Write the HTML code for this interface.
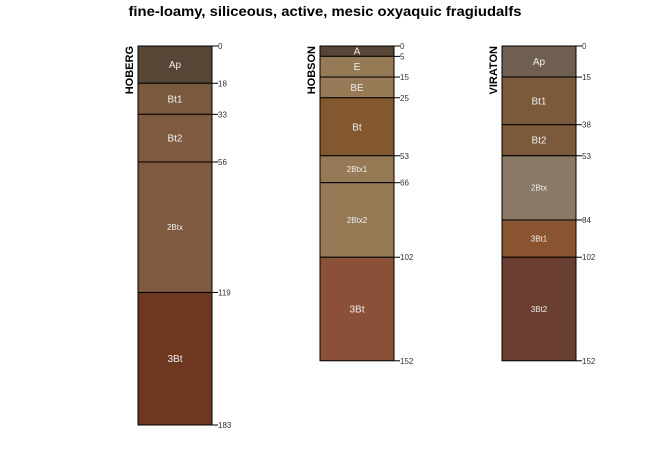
<!DOCTYPE html>
<html><head><meta charset="utf-8"><style>
body{margin:0;background:#fff;}
svg{display:block;font-family:"Liberation Sans",sans-serif;}
</style></head><body>
<svg id="c" width="650" height="450">
<text x="325" y="16" text-anchor="middle" font-size="14" font-weight="bold" textLength="393" lengthAdjust="spacingAndGlyphs">fine-loamy, siliceous, active, mesic oxyaquic fragiudalfs</text>
</svg>
<script>
const profileNames = ["HOBERG","HOBSON","VIRATON"];
const hobergNames = ["Ap","Bt1","Bt2","2Btx","3Bt"];
const hobergDepths = [0,18,33,56,119,183];
const hobergColors = ["#574536","#7a5a3e","#7f5a40","#7f5a40","#6e3720"];
const hobsonNames = ["A","E","BE","Bt","2Btx1","2Btx2","3Bt"];
const hobsonDepths = [0,5,15,25,53,66,102,152];
const hobsonColors = ["#574536","#967a56","#967a56","#83582e","#967a56","#967a56","#8b5138"];
const viratonNames = ["Ap","Bt1","Bt2","2Btx","3Bt1","3Bt2"];
const viratonDepths = [0,15,38,53,84,102,152];
const viratonColors = ["#6f5f50","#7a5a3a","#7a5a3a","#8a7965","#8b5430","#6a3e30"];

const svg=document.getElementById('c');
const NS='http://www.w3.org/2000/svg';
const y0=46, k=2.071;
function yScale(d){return y0+d*k;}
const colX=[138,320,502], colW=74;
const profs=[[hobergNames,hobergDepths,hobergColors],[hobsonNames,hobsonDepths,hobsonColors],[viratonNames,viratonDepths,viratonColors]];
function mk(t,a){const e=document.createElementNS(NS,t);for(const k in a)e.setAttribute(k,a[k]);svg.appendChild(e);return e;}
profs.forEach((p,i)=>{
  const [names,depths,colors]=p; const x=colX[i];
  const lab=mk('text',{x:0,y:0,'font-size':11,'font-weight':'bold','text-anchor':'end',transform:`translate(${x-5},${y0}) rotate(-90)`});
  lab.textContent=profileNames[i];
  
  
  names.forEach((n,j)=>{
    const ya=yScale(depths[j]), yb=yScale(depths[j+1]);
    const r=mk('rect',{x:x,y:ya,width:colW,height:yb-ya,fill:colors[j],stroke:'#000','stroke-width':1});
    
    
    const fs=n.length>=4?8:10;
    const t=mk('text',{x:x+colW/2,y:(ya+yb)/2+fs*0.35,'font-size':fs,fill:'#eee','text-anchor':'middle'});
    t.textContent=n;
    
    
  });
  depths.forEach(d=>{
    const yy=yScale(d);
    const l=mk('line',{x1:x+colW,x2:x+colW+6,y1:yy,y2:yy,stroke:'#000','stroke-width':1});
    
    
    const t=mk('text',{x:x+colW+6,y:yy+3,'font-size':8,fill:'#333'});
    t.textContent=d;
    
    
  });
});
</script>
</body></html>
